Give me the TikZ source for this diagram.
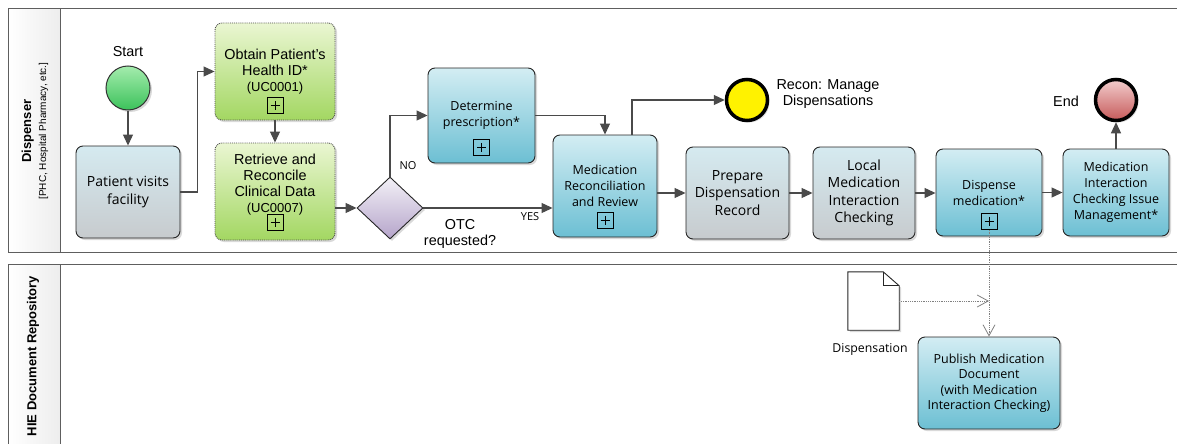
\documentclass[tikz,border=0pt]{standalone}
\usepackage{fontspec}
\setmainfont{Liberation Sans}
\newfontfamily\uifont{Open Sans}
\usetikzlibrary{arrows.meta,shapes.geometric,shadows,positioning}

\definecolor{linegray}{HTML}{4A4A4A}
\definecolor{poolgray}{HTML}{5E5E5E}
\definecolor{bluetop}{HTML}{D3EDF3}
\definecolor{bluebot}{HTML}{6CBFD3}
\definecolor{graytop}{HTML}{D5EAF0}
\definecolor{graybot}{HTML}{C7CBCE}
\definecolor{greentop}{HTML}{EAF6D2}
\definecolor{greenbot}{HTML}{A3D762}
\definecolor{gatetop}{HTML}{F3F1F7}
\definecolor{gatebot}{HTML}{B5A4CA}
\definecolor{starttop}{HTML}{A4ECAD}
\definecolor{startbot}{HTML}{3CC25B}
\definecolor{endtop}{HTML}{F2CDCD}
\definecolor{endbot}{HTML}{C65A5A}

\tikzset{pool_line/.style={draw=poolgray, line width=1pt}}
\tikzset{lane_head/.style={left color=white, right color=black!7}}
\tikzset{lane_text/.style={rotate=90, align=center, font=\fontsize{13}{15}\selectfont}}
\tikzset{task_shadow/.style={drop shadow={shadow xshift=2pt, shadow yshift=-2pt, opacity=0.3}}}
\tikzset{task_base/.style={rectangle, rounded corners=7pt, draw=black!85, line width=0.9pt, align=center, inner sep=2pt, task_shadow}}
\tikzset{blue_task/.style={task_base, top color=bluetop, bottom color=bluebot, font=\uifont\fontsize{12.5}{16}\selectfont}}
\tikzset{gray_task/.style={task_base, top color=graytop, bottom color=graybot, font=\uifont\fontsize{14}{17.5}\selectfont}}
\tikzset{green_task/.style={task_base, draw=black!70, densely dotted, top color=greentop, bottom color=greenbot, font=\fontsize{14.4}{16}\selectfont}}
\tikzset{plus_box/.style={rectangle, draw=black, line width=0.8pt, minimum size=16pt, inner sep=0pt, path picture={\draw[line width=0.9pt] ([xshift=3.5pt]path picture bounding box.west) -- ([xshift=-3.5pt]path picture bounding box.east) ([yshift=-3.5pt]path picture bounding box.north) -- ([yshift=3.5pt]path picture bounding box.south);}}}
\tikzset{gate_shape/.style={diamond, draw=black!85, line width=0.9pt, top color=gatetop, bottom color=gatebot, minimum width=66pt, minimum height=62pt, inner sep=0pt, aspect=1.06, task_shadow}}
\tikzset{start_event/.style={circle, draw=black!80, line width=1pt, minimum size=44pt, inner sep=0pt, top color=starttop, bottom color=startbot, task_shadow}}
\tikzset{mid_event/.style={circle, draw=black, line width=3.5pt, minimum size=41pt, inner sep=0pt, fill=yellow, task_shadow}}
\tikzset{end_event/.style={circle, draw=black, line width=3.5pt, minimum size=41pt, inner sep=0pt, top color=endtop, bottom color=endbot, task_shadow}}
\tikzset{doc_shape/.style={rectangle, minimum width=51pt, minimum height=58pt, inner sep=0pt}}
\tikzset{doc_line/.style={draw=black!85, line width=0.9pt, fill=white}}
\tikzset{arial_label/.style={align=center, font=\fontsize{14.4}{16}\selectfont}}
\tikzset{ui_label/.style={align=center, font=\uifont\fontsize{11}{13}\selectfont}}
\tikzset{flow_edge/.style={draw=linegray, line width=1.1pt, -{Triangle[length=11pt,width=10pt]}}}
\tikzset{msg_edge/.style={draw=black!50, line width=0.8pt, densely dotted, -{Straight Barb[length=11pt,width=12pt]}}}

\begin{document}
\begin{tikzpicture}[x=1pt,y=-1pt]
    \useasboundingbox (0,0) rectangle (1177,444);
    \draw[pool_line] (8,9) rectangle (1190,252);
    \draw[pool_line, lane_head] (8,9) rectangle (60,252);
    \draw[pool_line] (8,264) rectangle (1190,460);
    \draw[pool_line, lane_head] (8,264) rectangle (60,460);
    \node[lane_text] (lane_disp) at (35,131) {\textbf{Dispenser}\\{\fontsize{10}{12}\selectfont [PHC, Hospital Pharmacy, etc.]}};
    \node[lane_text] (lane_hie) at (33,356) {\textbf{HIE Document Repository}};

    \node[start_event] (start) at (128,88) {};
    \node[arial_label] (start_lbl) at (128,52) {Start};
    \node[gray_task, minimum width=104pt, minimum height=92pt] (visit) at (128,192) {Patient visits\\facility};
    \node[green_task, minimum width=120pt, minimum height=97pt] (obtain) at (275,71.5) {Obtain Patient’s\\Health ID*\\{\fontsize{13}{16}\selectfont (UC0001)}};
    \node[green_task, minimum width=120pt, minimum height=97pt] (retrieve) at (275,191.5) {Retrieve and\\Reconcile\\Clinical Data\\{\fontsize{13}{16}\selectfont (UC0007)}\\\rule{0pt}{10pt}};
    \node[gate_shape] (otc) at (390,208) {};
    \node[blue_task, minimum width=107pt, minimum height=95pt] (determine) at (481.5,115.5) {Determine\\prescription*};
    \node[blue_task, minimum width=104pt, minimum height=102pt] (recon) at (605,186) {Medication\\Reconciliation\\and Review};
    \node[gray_task, minimum width=103pt, minimum height=92pt] (prepare) at (737.5,193) {Prepare\\Dispensation\\Record};
    \node[gray_task, minimum width=102pt, minimum height=92pt] (localchk) at (864,193) {Local\\Medication\\Interaction\\Checking};
    \node[blue_task, minimum width=106pt, minimum height=87pt] (dispense) at (989,192.5) {Dispense\\medication*};
    \node[blue_task, minimum width=106pt, minimum height=87pt] (issue) at (1116,192.5) {Medication\\Interaction\\Checking Issue\\Management*};
    \node[mid_event] (reconev) at (747,100) {};
    \node[arial_label] (reconev_lbl) at (828,94) {Recon: Manage\\Dispensations};
    \node[end_event] (endev) at (1116,100) {};
    \node[arial_label] (end_lbl) at (1066,101) {End};
    \node[blue_task, minimum width=142pt, minimum height=92pt, font=\uifont\fontsize{12.5}{15.5}\selectfont] (publish) at (989,383) {Publish Medication\\Document\\(with Medication\\Interaction Checking)};
    \node[doc_shape] (doc) at (873.5,301) {};
    \node[ui_label, font=\uifont\fontsize{12.3}{14}\selectfont] (doc_lbl) at (870,349) {Dispensation};

    \node[plus_box] (obtain_plus) at ([yshift=15pt]obtain.south) {};
    \node[plus_box] (retrieve_plus) at ([yshift=18pt]retrieve.south) {};
    \node[plus_box] (determine_plus) at ([yshift=16pt]determine.south) {};
    \node[plus_box] (recon_plus) at ([yshift=17pt]recon.south) {};
    \node[plus_box] (dispense_plus) at ([yshift=15pt]dispense.south) {};

    \draw[doc_line, task_shadow] (doc.north west) -- ([xshift=-16pt]doc.north east) -- ([yshift=-14pt]doc.north east) -- (doc.south east) -- (doc.south west) -- cycle;
    \draw[doc_line, fill=none] ([xshift=-16pt]doc.north east) |- ([yshift=-14pt]doc.north east);

    \coordinate (recon_top) at ([xshift=27pt]recon.north);
    \draw[flow_edge] (start) -- (visit);
    \draw[flow_edge] (visit.east) -- ++(17,0) |- (obtain.west);
    \draw[flow_edge] (obtain) -- (retrieve);
    \draw[flow_edge] (retrieve.east |- otc.west) -- (otc.west);
    \draw[flow_edge] (otc.north) |- (determine.west);
    \draw[flow_edge] (otc.east) -- (otc.east -| recon.west);
    \draw[flow_edge] (determine.east) -| (recon.north);
    \draw[flow_edge] (recon_top) |- (reconev.west);
    \draw[flow_edge] (recon.east |- prepare.west) -- (prepare.west);
    \draw[flow_edge] (prepare) -- (localchk);
    \draw[flow_edge] (localchk.east) -- (localchk.east -| dispense.west);
    \draw[flow_edge] (dispense) -- (issue);
    \draw[flow_edge] (issue) -- (endev);
    \draw[msg_edge] (dispense_plus.south) -- (publish.north);
    \draw[msg_edge] (doc.east) -- (doc.east -| publish.north);

    \node[ui_label] (no_lbl) at (408,166) {NO};
    \node[ui_label] (yes_lbl) at (530,217) {YES};
    \node[arial_label] (otc_lbl) at (460,234) {OTC\\requested?};
\end{tikzpicture}
\end{document}
